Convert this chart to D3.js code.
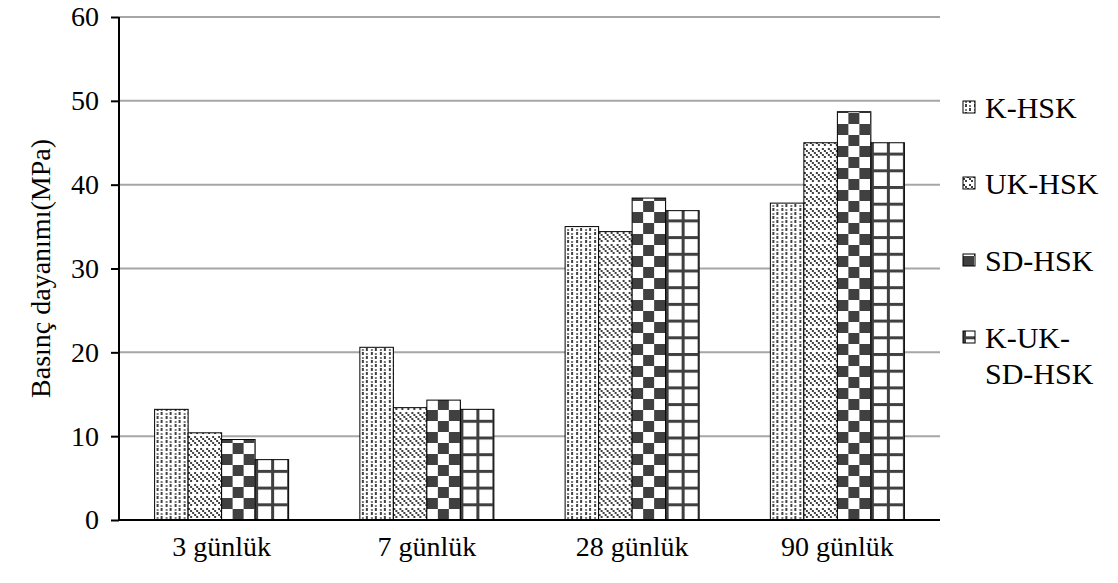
<!DOCTYPE html>
<html><head><meta charset="utf-8">
<script src="https://cdn.jsdelivr.net/npm/d3@7"></script>
<style>body{margin:0;background:#fff}svg{display:block}text{font-family:"Liberation Serif","Times New Roman",serif;fill:#000}</style>
</head><body><svg id="c" width="1118" height="583" font-family="Liberation Serif, Times New Roman, serif"></svg>
<script>
const categories = ["3 günlük","7 günlük","28 günlük","90 günlük"];
const seriesNames = ["K-HSK","UK-HSK","SD-HSK","K-UK-SD-HSK"];
const kHSK = [13.2, 20.6, 35.0, 37.8];
const ukHSK = [10.4, 13.4, 34.4, 45.0];
const sdHSK = [9.6, 14.3, 38.4, 48.7];
const kukHSK = [7.2, 13.2, 36.9, 45.0];
const yTicks = [0,10,20,30,40,50,60];
const legendLines = [["K-HSK"],["UK-HSK"],["SD-HSK"],["K-UK-","SD-HSK"]];
const series = [kHSK, ukHSK, sdHSK, kukHSK];

const svg = d3.select("#c");
const L=119, R=940, T=17, B=520;
const FS = "28px", LFS = "30px", FF = "Liberation Serif, Times New Roman, serif";
const defs = svg.append("defs");
const dark="#404040";

const x0 = d3.scaleBand().domain(categories).range([L,R]).paddingInner(0.347).paddingOuter(0.1735);
const x1 = d3.scaleBand().domain(seriesNames).range([0,x0.bandwidth()]);
const y = d3.scaleLinear().domain([0,60]).range([B,T]);

function makePattern(id, si, ox){
  let p;
  if(si===0){
    p = defs.append("pattern").attr("id",id).attr("patternUnits","userSpaceOnUse").attr("width",9).attr("height",8).attr("x",ox).attr("y",B);
    p.append("rect").attr("width",9).attr("height",8).attr("fill","#fff");
    [[2,0,2,3],[6,4,2,3]].forEach(r=>p.append("rect").attr("x",r[0]).attr("y",r[1]).attr("width",r[2]).attr("height",r[3]).attr("fill",dark));
    [[2,5,2,2],[6,1,2,2]].forEach(r=>p.append("rect").attr("x",r[0]).attr("y",r[1]).attr("width",r[2]).attr("height",r[3]).attr("fill",dark).attr("opacity",0.7));
  } else if(si===1){
    p = defs.append("pattern").attr("id",id).attr("patternUnits","userSpaceOnUse").attr("width",12).attr("height",12).attr("x",ox).attr("y",B);
    p.append("rect").attr("width",12).attr("height",12).attr("fill","#fff");
    [[0,0],[2,2],[4,4],[6,6],[8,8],[6,0],[8,2],[10,4],[0,6],[2,8]].forEach(r=>p.append("rect").attr("x",r[0]).attr("y",r[1]).attr("width",2).attr("height",2).attr("fill",dark));
  } else if(si===2){
    p = defs.append("pattern").attr("id",id).attr("patternUnits","userSpaceOnUse").attr("width",22).attr("height",22).attr("x",ox).attr("y",B);
    p.append("rect").attr("width",22).attr("height",22).attr("fill","#fff");
    p.append("rect").attr("x",0).attr("y",0).attr("width",11).attr("height",11).attr("fill",dark);
    p.append("rect").attr("x",11).attr("y",11).attr("width",11).attr("height",11).attr("fill",dark);
  } else {
    p = defs.append("pattern").attr("id",id).attr("patternUnits","userSpaceOnUse").attr("width",16).attr("height",16.7).attr("x",ox).attr("y",B);
    p.append("rect").attr("width",16).attr("height",16.7).attr("fill","#fff");
    p.append("rect").attr("x",0).attr("y",0).attr("width",16).attr("height",3).attr("fill",dark);
    p.append("rect").attr("x",0).attr("y",0).attr("width",3).attr("height",16.7).attr("fill",dark);
  }
}

// gridlines
svg.append("g").selectAll("line").data(yTicks.filter(d=>d>0)).join("line")
 .attr("x1",L).attr("x2",R).attr("y1",d=>y(d)).attr("y2",d=>y(d)).attr("stroke","#a6a6a6").attr("stroke-width",2);

// bars
const g = svg.append("g");
categories.forEach((c,ci)=>{
  seriesNames.forEach((s,si)=>{
    const v = series[si][ci];
    const bx = x0(c)+x1(s);
    const id = `b${ci}_${si}`;
    makePattern(id, si, bx);
    g.append("rect").attr("x",bx).attr("y",y(v)).attr("width",x1.bandwidth()).attr("height",B-y(v))
     .attr("fill",`url(#${id})`).attr("stroke","#000").attr("stroke-width",1);
  });
});

// y axis
const ya = svg.append("g").attr("transform",`translate(${L},0)`).call(d3.axisLeft(y).tickValues(yTicks).tickSize(8).tickPadding(12).tickFormat(d3.format("d")));
ya.attr("font-family",FF);
ya.select(".domain").attr("stroke","#000").attr("stroke-width",2).attr("d",`M0,${T}V${B}`);
ya.selectAll(".tick line").attr("stroke","#000").attr("stroke-width",2);
ya.selectAll("text").style("font-size",FS).style("font-family",FF);

// x axis
const xa = svg.append("g").attr("transform",`translate(0,${B})`).call(d3.axisBottom(x0).tickSize(0).tickPadding(16));
xa.attr("font-family",FF);
xa.select(".domain").attr("stroke","#000").attr("stroke-width",2).attr("d",`M${L},0H${R}`);
xa.selectAll("text").style("font-size",FS).style("font-family",FF);

// y label
svg.append("text").attr("transform",`translate(40,${(T+B)/2}) rotate(-90)`).attr("text-anchor","middle").attr("dominant-baseline","central").style("font-size",FS).style("font-family",FF).text("Basınç dayanımı(MPa)");

// legend
const legY = [107,183,260,337];
legendLines.forEach((lines,i)=>{
  makePattern(`lg${i}`, i, 963);
  svg.append("rect").attr("x",963).attr("y",legY[i]-6).attr("width",12).attr("height",12).attr("fill",`url(#lg${i})`).attr("stroke","#000").attr("stroke-width",1);
  lines.forEach((t,j)=>svg.append("text").attr("x",985).attr("y",legY[i]+j*36).attr("dominant-baseline","central").style("font-size",LFS).style("font-family",FF).text(t));
});
</script></body></html>
